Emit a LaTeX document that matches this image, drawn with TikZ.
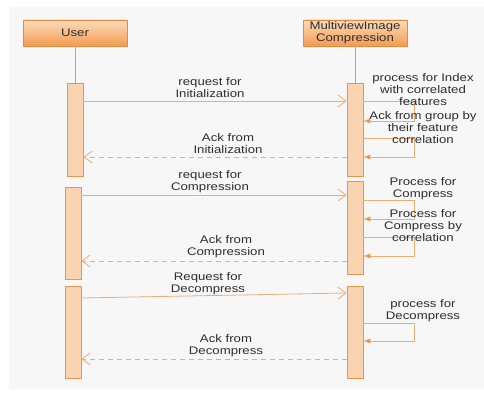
\documentclass[tikz,border=0pt]{standalone}
\usepackage{fontspec}
\setmainfont{Liberation Sans}[FakeStretch=1.2]
\usepackage{tikz}
\usetikzlibrary{arrows.meta}
\definecolor{bggray}{HTML}{F7F7F7}
\definecolor{hdtop}{HTML}{FCDCBC}
\definecolor{hdbot}{HTML}{F39A50}
\definecolor{hdline}{HTML}{E58A40}
\definecolor{actfill}{HTML}{FAD4B0}
\definecolor{actline}{HTML}{E8964E}
\definecolor{msgline}{HTML}{EBAE72}
\definecolor{tipfill}{HTML}{F08C34}
\definecolor{txtgray}{HTML}{2E2E2E}
\tikzstyle{header} = [draw=hdline,line width=0.9pt,top color=hdtop,bottom color=hdbot,
    minimum width=104pt,minimum height=26pt,inner sep=0pt,align=center,
    text=txtgray,font=\fontsize{11}{12}\selectfont]
\tikzstyle{act} = [draw=actline,line width=0.9pt,fill=actfill,minimum width=16pt,inner sep=0pt]
\tikzstyle{life} = [draw=msgline!85!black!90,line width=0.8pt]
\tikzstyle{msg} = [draw=msgline,line width=0.8pt,-{Straight Barb[length=8pt,width=12pt]}]
\tikzstyle{ret} = [msg,dash pattern=on 5pt off 4pt]
\tikzstyle{selfmsg} = [draw=msgline,line width=0.8pt,-{Triangle[length=7pt,width=5pt,fill=tipfill]}]
\tikzstyle{lbl} = [align=center,inner sep=0pt,text=txtgray,font=\fontsize{11}{12}\selectfont]
\newcommand{\selfcall}[3]{
    \draw[selfmsg] (#1.east |- 0,#2) -| (414,#3) -- (#1.east |- 0,#3);
}
\begin{document}
\begin{tikzpicture}[x=1pt,y=-1pt]
    \useasboundingbox (0,0) rectangle (484,393);
    \fill[bggray] (9,7) rectangle (484,389);

    \node(user) at (75,33) [header] {User};
    \node(mvic) at (355,33) [header] {MultiviewImage\\Compression};

    \node(ua) at (75,129.5) [act,minimum height=93pt] {};
    \node(ub) at (73,233) [act,minimum height=92pt] {};
    \node(uc) at (73,332) [act,minimum height=92pt] {};
    \node(ma) at (355,129.5) [act,minimum height=93pt] {};
    \node(mb) at (355,227.5) [act,minimum height=93pt] {};
    \node(mc) at (355,332) [act,minimum height=92pt] {};

    \draw[life] (user) -- (ua);
    \draw[life] (mvic) -- (ma);

    \draw[msg] (ua.east |- 0,101) -- (ma.west |- 0,101);
    \node(reqinit) at (210,88) [lbl] {request for\\Initialization};
    \selfcall{ma}{101}{121}
    \node(procidx) at (423,90) [lbl] {process for Index\\with correlated\\features};
    \selfcall{ma}{138}{157}
    \node(ackgrp) at (423,128) [lbl] {Ack from group by\\their feature\\correlation};
    \draw[ret] (ma.west |- 0,157) -- (ua.east |- 0,157);
    \node(ackinit) at (228,144) [lbl] {Ack from\\Initialization};

    \draw[msg] (ub.east |- 0,195) -- (mb.west |- 0,195);
    \node(reqcomp) at (210,181.5) [lbl] {request for\\Compression};
    \selfcall{mb}{200}{219}
    \node(proccomp) at (423,188.5) [lbl] {Process for\\Compress};
    \selfcall{mb}{237}{256}
    \node(proccorr) at (423,226) [lbl] {Process for\\Compress by\\correlation};
    \draw[ret] (mb.west |- 0,261) -- (ub.east |- 0,261);
    \node(ackcomp) at (226,247) [lbl] {Ack from\\Compression};

    \draw[msg] (uc.east |- 0,298) -- (mc.west |- 0,293);
    \node(reqdec) at (208,284) [lbl] {Request for\\Decompress};
    \selfcall{mc}{323}{341}
    \node(procdec) at (423,311) [lbl] {process for\\Decompress};
    \draw[ret] (mc.west |- 0,359) -- (uc.east |- 0,359);
    \node(ackdec) at (226,346) [lbl] {Ack from\\Decompress};
\end{tikzpicture}
\end{document}
